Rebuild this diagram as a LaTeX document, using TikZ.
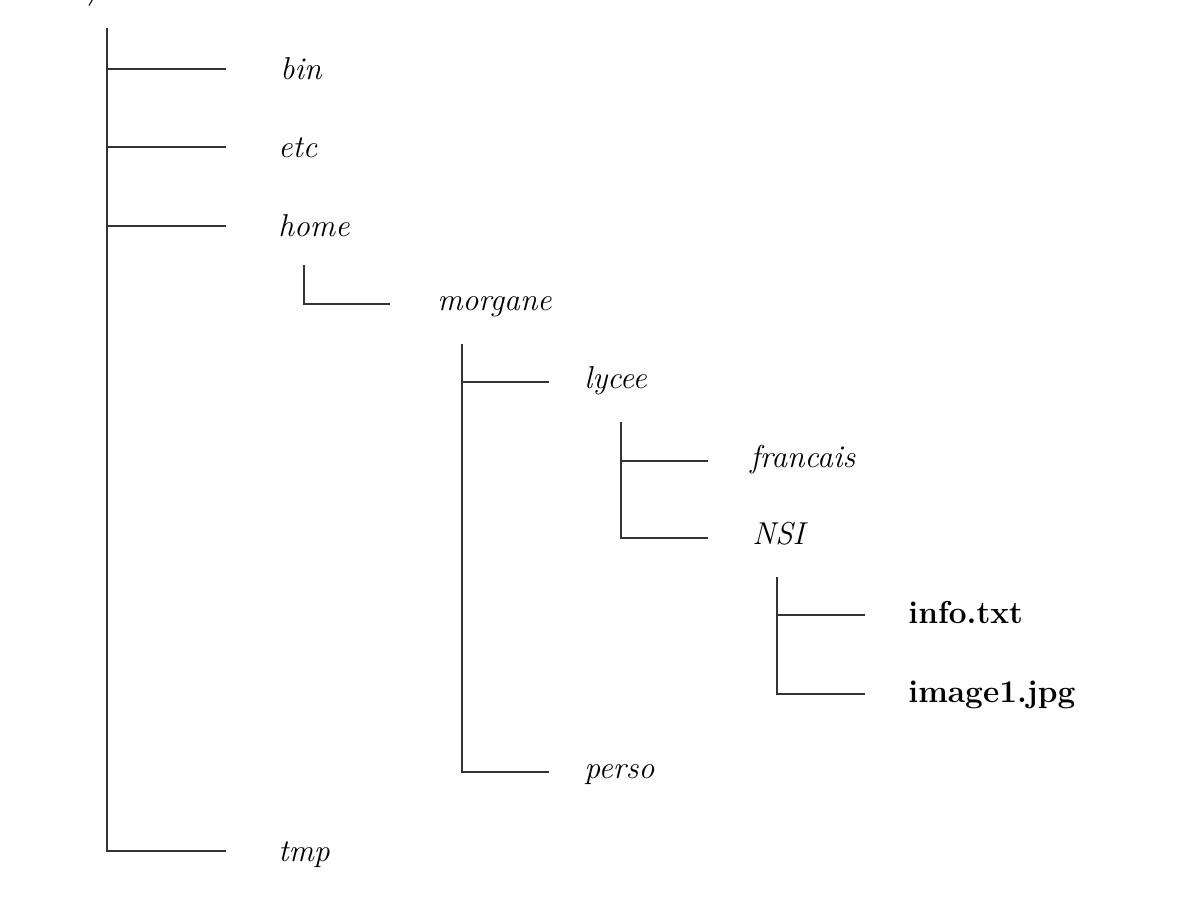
\documentclass[tikz,border=0pt]{standalone}
\usepackage{fontspec}
\begin{document}
\begin{tikzpicture}[x=0.02cm,y=-0.02cm,
  tree/.style={line width=1.1pt,draw=black!80},
  dir/.style={anchor=base west,inner sep=0pt,font=\fontsize{18}{22}\selectfont\itshape},
  file/.style={anchor=base west,inner sep=0pt,font=\fontsize{18}{22}\selectfont\bfseries}]
\useasboundingbox[fill=white] (0,0) rectangle (1194,914);
% root (cut off at the top)
\node[anchor=base,inner sep=0pt,font=\fontsize{18}{22}\selectfont\itshape] (root) at (96,-2) {/};
% level 1
\coordinate (t0) at (107,28);
\coordinate (bin-end) at (226,69);
\coordinate (etc-end) at (226,147);
\coordinate (home-end) at (226,226);
\coordinate (tmp-end) at (226,851);
\node[dir] (bin) at (280,79) {bin};
\node[dir] (etc) at (278,157) {etc};
\node[dir] (home) at (278,236) {home};
\node[dir] (tmp) at (278,861) {tmp};
\draw[tree] (t0) |- (tmp-end);
\draw[tree] (t0 |- bin-end) -- (bin-end);
\draw[tree] (t0 |- etc-end) -- (etc-end);
\draw[tree] (t0 |- home-end) -- (home-end);
% home
\coordinate (t1) at (304,265);
\coordinate (morgane-end) at (390,304);
\node[dir] (morgane) at (437,310) {morgane};
\draw[tree] (t1) |- (morgane-end);
% morgane
\coordinate (t2) at (462,344);
\coordinate (lycee-end) at (549,382);
\coordinate (perso-end) at (549,772);
\node[dir] (lycee) at (584,388) {lycee};
\node[dir] (perso) at (584,778) {perso};
\draw[tree] (t2) |- (perso-end);
\draw[tree] (t2 |- lycee-end) -- (lycee-end);
% lycee
\coordinate (t3) at (621,422);
\coordinate (francais-end) at (708,461);
\coordinate (NSI-end) at (708,538);
\node[dir] (francais) at (750,467) {francais};
\node[dir] (NSI) at (752,544) {NSI};
\draw[tree] (t3) |- (NSI-end);
\draw[tree] (t3 |- francais-end) -- (francais-end);
% NSI
\coordinate (t4) at (777,577);
\coordinate (info-end) at (865,615);
\coordinate (img-end) at (865,694);
\node[file] (info) at (908,623) {info.txt};
\node[file] (img) at (908,702) {image1.jpg};
\draw[tree] (t4) |- (img-end);
\draw[tree] (t4 |- info-end) -- (info-end);
\end{tikzpicture}
\end{document}
